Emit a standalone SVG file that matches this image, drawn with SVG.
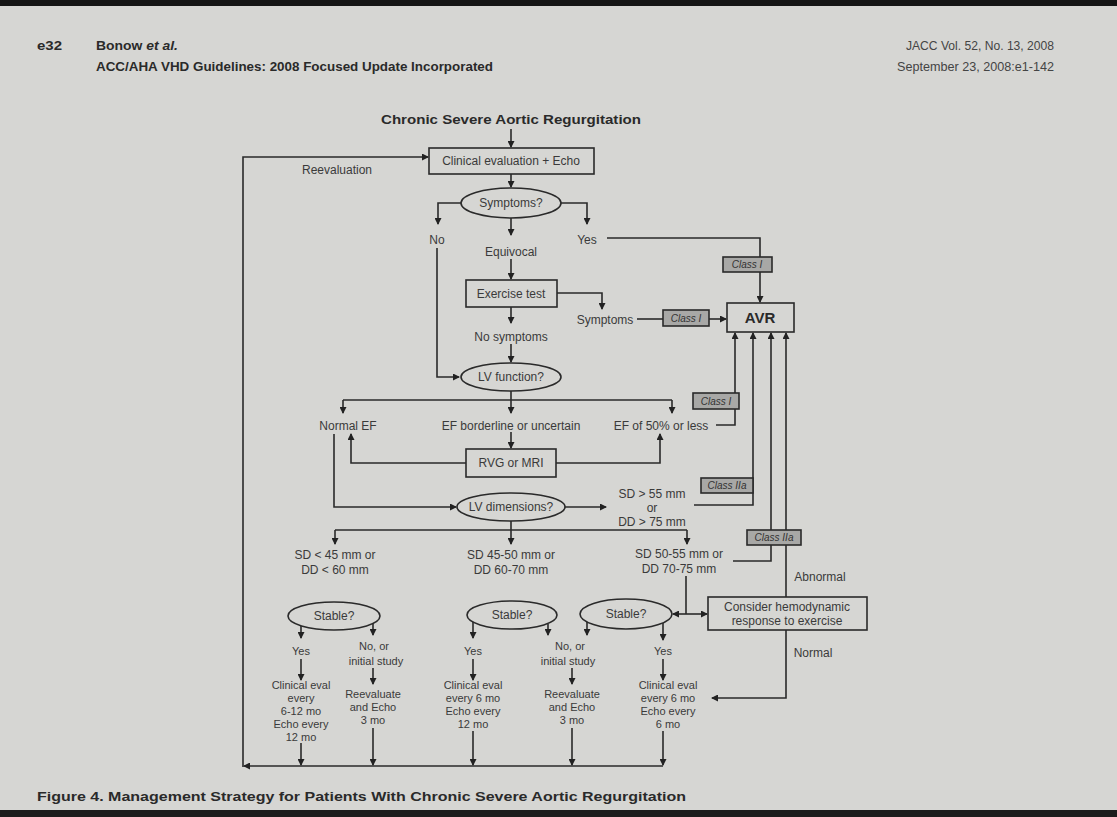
<svg xmlns="http://www.w3.org/2000/svg" width="1117" height="817" viewBox="0 0 1117 817">
<defs>
<marker id="arr" markerWidth="7" markerHeight="7" refX="6" refY="3.5" orient="auto" markerUnits="userSpaceOnUse">
<path d="M0,0 L7,3.5 L0,7 z" fill="#222"/>
</marker>
<style>
.ln{fill:none;stroke:#2a2a2a;stroke-width:1.6;marker-end:url(#arr)}
.pl{fill:none;stroke:#2a2a2a;stroke-width:1.6}
.box{fill:#d6d6d3;stroke:#2a2a2a;stroke-width:1.6}
.cls{fill:#a8a8a6;stroke:#2a2a2a;stroke-width:1.6}
.t{font-family:"Liberation Sans",Arial,sans-serif;font-size:12px;fill:#3a3a3a;text-anchor:middle}
.s{font-family:"Liberation Sans",Arial,sans-serif;font-size:11px;fill:#3a3a3a;text-anchor:middle}
.c{font-family:"Liberation Sans",Arial,sans-serif;font-size:10px;fill:#333;text-anchor:middle;font-style:italic}
.h{font-family:"Liberation Sans",Arial,sans-serif;font-weight:bold;fill:#2a2a2a}
.r{font-family:"Liberation Sans",Arial,sans-serif;font-size:12px;fill:#444;text-anchor:end}
</style>
</defs>
<rect width="1117" height="817" fill="#d6d6d3"/>
<rect width="1117" height="6" fill="#151515"/>
<rect y="810" width="1117" height="7" fill="#1c1c1c"/>

<g id="header">
<text class="h" x="37" y="50" font-size="12.5" textLength="25" lengthAdjust="spacingAndGlyphs">e32</text>
<text class="h" x="96" y="50" font-size="12.5" textLength="82" lengthAdjust="spacingAndGlyphs">Bonow <tspan font-style="italic">et al.</tspan></text>
<text class="h" x="96" y="71" font-size="12.5" textLength="397" lengthAdjust="spacingAndGlyphs">ACC/AHA VHD Guidelines: 2008 Focused Update Incorporated</text>
<text class="r" x="1054" y="50" textLength="148" lengthAdjust="spacingAndGlyphs">JACC Vol. 52, No. 13, 2008</text>
<text class="r" x="1054" y="71" textLength="157" lengthAdjust="spacingAndGlyphs">September 23, 2008:e1-142</text>
</g>

<g id="title"><text class="h" x="511" y="124" font-size="13.5" text-anchor="middle" textLength="260" lengthAdjust="spacingAndGlyphs">Chronic Severe Aortic Regurgitation</text></g>

<g id="connectors">
<path class="ln" d="M511,129 V147"/>
<path class="ln" d="M511,174 V187"/>
<path class="ln" d="M461,203 H438 V224"/>
<path class="ln" d="M511,218 V235"/>
<path class="ln" d="M561,203 H587 V224"/>
<path class="ln" d="M607,238 H760 V302"/>
<path class="ln" d="M511,259 V279"/>
<path class="ln" d="M557,293 H602 V309"/>
<path class="pl" d="M637,319 H663"/>
<path class="ln" d="M709,319 H726"/>
<path class="ln" d="M511,307 V323"/>
<path class="ln" d="M511,344 V362"/>
<path class="ln" d="M437,248 V377 H459"/>
<path class="ln" d="M511,391 V413"/>
<path class="pl" d="M343,400 H672"/>
<path class="ln" d="M343,400 V413"/>
<path class="ln" d="M672,400 V413"/>
<path class="ln" d="M716,425 H735 V333"/>
<path class="ln" d="M511,432 V448"/>
<path class="ln" d="M466,463 H351 V434"/>
<path class="ln" d="M556,463 H660 V434"/>
<path class="ln" d="M334,434 V507 H456"/>
<path class="ln" d="M565,507 H606"/>
<path class="ln" d="M694,505 H753 V333"/>
<path class="ln" d="M511,521 V544"/>
<path class="pl" d="M335,530 H687"/>
<path class="ln" d="M335,530 V544"/>
<path class="ln" d="M687,530 V544"/>
<path class="ln" d="M733,561 H771 V333"/>
<path class="ln" d="M786,597 V333"/>
<path class="pl" d="M686,576 V614"/>
<path class="ln" d="M686,614 H673"/>
<path class="ln" d="M686,614 H707"/>
<path class="ln" d="M786,630 V698 H712"/>
<path class="ln" d="M301,626 V638"/>
<path class="ln" d="M301,659 V680"/>
<path class="ln" d="M301,743 V765"/>
<path class="ln" d="M373,623 V635"/>
<path class="ln" d="M373,668 V684"/>
<path class="ln" d="M373,728 V765"/>
<path class="ln" d="M473,622 V638"/>
<path class="ln" d="M473,659 V680"/>
<path class="ln" d="M473,731 V765"/>
<path class="ln" d="M548,624 V635"/>
<path class="ln" d="M587,622 V635"/>
<path class="ln" d="M572,668 V684"/>
<path class="ln" d="M572,728 V765"/>
<path class="ln" d="M663,623 V640"/>
<path class="ln" d="M663,659 V680"/>
<path class="ln" d="M663,731 V765"/>
<path class="ln" d="M663,766 H244"/>
<path class="ln" d="M243,767 V157 H428"/>
</g>

<g id="reeval"><text class="t" x="337" y="174">Reevaluation</text></g>

<g id="clinical"><rect class="box" x="429" y="148" width="165" height="26"/><text class="t" x="511" y="165">Clinical evaluation + Echo</text></g>
<g id="symptoms"><ellipse class="box" cx="511" cy="203" rx="50" ry="15"/><text class="t" x="511" y="207">Symptoms?</text></g>
<g id="no"><text class="t" x="437" y="244">No</text></g>
<g id="equivocal"><text class="t" x="511" y="256">Equivocal</text></g>
<g id="yes"><text class="t" x="587" y="244">Yes</text></g>
<g id="classI-1"><rect class="cls" x="723" y="257" width="49" height="15"/><text class="c" x="747" y="268">Class I</text></g>
<g id="exercise"><rect class="box" x="466" y="280" width="91" height="27"/><text class="t" x="511" y="298">Exercise test</text></g>
<g id="symptoms2"><text class="t" x="605" y="324">Symptoms</text></g>
<g id="classI-2"><rect class="cls" x="663" y="310" width="46" height="16"/><text class="c" x="686" y="322">Class I</text></g>
<g id="avr"><rect class="box" x="727" y="303" width="67" height="29"/><text class="h" x="760" y="323" font-size="15" text-anchor="middle">AVR</text></g>
<g id="nosymptoms"><text class="t" x="511" y="341">No symptoms</text></g>
<g id="lvfunction"><ellipse class="box" cx="511" cy="377" rx="50" ry="14"/><text class="t" x="511" y="381">LV function?</text></g>
<g id="normalef"><text class="t" x="348" y="430">Normal EF</text></g>
<g id="efborder"><text class="t" x="511" y="430">EF borderline or uncertain</text></g>
<g id="ef50"><text class="t" x="661" y="430">EF of 50% or less</text></g>
<g id="classI-3"><rect class="cls" x="693" y="393" width="46" height="16"/><text class="c" x="716" y="405">Class I</text></g>
<g id="rvg"><rect class="box" x="466" y="449" width="90" height="28"/><text class="t" x="511" y="467">RVG or MRI</text></g>
<g id="lvdim"><ellipse class="box" cx="511" cy="507" rx="54" ry="14"/><text class="t" x="511" y="511">LV dimensions?</text></g>
<g id="sd55"><text class="t" x="652" y="498">SD &gt; 55 mm</text><text class="t" x="652" y="512">or</text><text class="t" x="652" y="526">DD &gt; 75 mm</text></g>
<g id="classIIa-1"><rect class="cls" x="701" y="478" width="52" height="15"/><text class="c" x="727" y="489">Class IIa</text></g>
<g id="sd45"><text class="t" x="335" y="559">SD &lt; 45 mm or</text><text class="t" x="335" y="574">DD &lt; 60 mm</text></g>
<g id="sd4550"><text class="t" x="511" y="559">SD 45-50 mm or</text><text class="t" x="511" y="574">DD 60-70 mm</text></g>
<g id="sd5055"><text class="t" x="679" y="558">SD 50-55 mm or</text><text class="t" x="679" y="573">DD 70-75 mm</text></g>
<g id="classIIa-2"><rect class="cls" x="747" y="530" width="54" height="15"/><text class="c" x="774" y="541">Class IIa</text></g>
<g id="abnormal"><text class="t" x="820" y="581">Abnormal</text></g>
<g id="hemo"><rect class="box" x="708" y="597" width="159" height="33"/><text class="t" x="787" y="611">Consider hemodynamic</text><text class="t" x="787" y="625">response to exercise</text></g>
<g id="normal"><text class="t" x="813" y="657">Normal</text></g>

<g id="stable1"><ellipse class="box" cx="334" cy="616" rx="46" ry="14"/><text class="t" x="334" y="620">Stable?</text></g>
<g id="stable2"><ellipse class="box" cx="512" cy="615" rx="45" ry="14"/><text class="t" x="512" y="619">Stable?</text></g>
<g id="stable3"><ellipse class="box" cx="626" cy="614" rx="46" ry="15"/><text class="t" x="626" y="618">Stable?</text></g>

<g id="yes1"><text class="s" x="301" y="655">Yes</text></g>
<g id="no1"><text class="s" x="374" y="650">No, or</text><text class="s" x="376" y="665">initial study</text></g>
<g id="yes2"><text class="s" x="473" y="655">Yes</text></g>
<g id="no2"><text class="s" x="570" y="650">No, or</text><text class="s" x="568" y="665">initial study</text></g>
<g id="yes3"><text class="s" x="663" y="655">Yes</text></g>

<g id="eval1"><text class="s" x="301" y="689">Clinical eval</text><text class="s" x="301" y="702">every</text><text class="s" x="301" y="715">6-12 mo</text><text class="s" x="301" y="728">Echo every</text><text class="s" x="301" y="741">12 mo</text></g>
<g id="reeval1"><text class="s" x="373" y="698">Reevaluate</text><text class="s" x="373" y="711">and Echo</text><text class="s" x="373" y="724">3 mo</text></g>
<g id="eval2"><text class="s" x="473" y="689">Clinical eval</text><text class="s" x="473" y="702">every 6 mo</text><text class="s" x="473" y="715">Echo every</text><text class="s" x="473" y="728">12 mo</text></g>
<g id="reeval2"><text class="s" x="572" y="698">Reevaluate</text><text class="s" x="572" y="711">and Echo</text><text class="s" x="572" y="724">3 mo</text></g>
<g id="eval3"><text class="s" x="668" y="689">Clinical eval</text><text class="s" x="668" y="702">every 6 mo</text><text class="s" x="668" y="715">Echo every</text><text class="s" x="668" y="728">6 mo</text></g>

<g id="caption"><text class="h" x="37" y="801" font-size="12.5" textLength="649" lengthAdjust="spacingAndGlyphs">Figure 4.  Management Strategy for Patients With Chronic Severe Aortic Regurgitation</text></g>
</svg>
